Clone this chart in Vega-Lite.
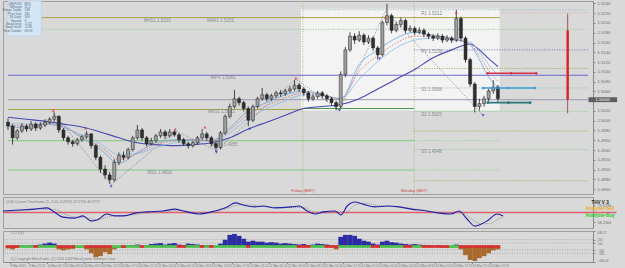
{
"$schema": "https://vega.github.io/schema/vega-lite/v6.json",
"background": "#d9d9d9",
"padding": 0,
"spacing": 1,
"config": {
  "view": {"stroke": "#a0a0a0", "fill": "#d9d9d9"},
  "font": "Liberation Sans",
  "axis": {"labelFontSize": 4.5, "labelColor": "#6e6e6e", "domainColor": "#8a8a8a", "tickColor": "#8a8a8a", "tickSize": 2, "grid": false, "labelPadding": 2, "labelOverlap": false, "labelFlush": false, "labelBound": false}
},
"datasets": {
  "candles": [
{"t":0,"o":1.4997,"h":1.5005,"l":1.4981,"c":1.4989},
{"t":1,"o":1.4989,"h":1.4993,"l":1.4951,"c":1.4965},
{"t":2,"o":1.4965,"h":1.4983,"l":1.4961,"c":1.4979},
{"t":3,"o":1.4979,"h":1.4995,"l":1.4975,"c":1.4989},
{"t":4,"o":1.4989,"h":1.4993,"l":1.4977,"c":1.4983},
{"t":5,"o":1.4983,"h":1.4999,"l":1.4979,"c":1.4993},
{"t":6,"o":1.4993,"h":1.4997,"l":1.4979,"c":1.4985},
{"t":7,"o":1.4985,"h":1.4997,"l":1.4981,"c":1.4991},
{"t":8,"o":1.4991,"h":1.5003,"l":1.4987,"c":1.4997},
{"t":9,"o":1.4997,"h":1.5007,"l":1.4993,"c":1.5003},
{"t":10,"o":1.5003,"h":1.5017,"l":1.4997,"c":1.5009},
{"t":11,"o":1.5009,"h":1.5011,"l":1.4975,"c":1.4981},
{"t":12,"o":1.4981,"h":1.4985,"l":1.4959,"c":1.4965},
{"t":13,"o":1.4965,"h":1.4969,"l":1.4951,"c":1.4957},
{"t":14,"o":1.4957,"h":1.4961,"l":1.4947,"c":1.4953},
{"t":15,"o":1.4953,"h":1.4965,"l":1.4949,"c":1.4961},
{"t":16,"o":1.4961,"h":1.4971,"l":1.4957,"c":1.4967},
{"t":17,"o":1.4967,"h":1.4979,"l":1.4963,"c":1.4973},
{"t":18,"o":1.4973,"h":1.4975,"l":1.4943,"c":1.4949},
{"t":19,"o":1.4949,"h":1.4953,"l":1.4919,"c":1.4925},
{"t":20,"o":1.4925,"h":1.4929,"l":1.4893,"c":1.4901},
{"t":21,"o":1.4901,"h":1.4909,"l":1.4881,"c":1.4889},
{"t":22,"o":1.4889,"h":1.4895,"l":1.4871,"c":1.4879},
{"t":23,"o":1.4879,"h":1.4921,"l":1.4875,"c":1.4915},
{"t":24,"o":1.4915,"h":1.4935,"l":1.4909,"c":1.4929},
{"t":25,"o":1.4929,"h":1.4937,"l":1.4919,"c":1.4925},
{"t":26,"o":1.4925,"h":1.4945,"l":1.4921,"c":1.4941},
{"t":27,"o":1.4941,"h":1.4969,"l":1.4937,"c":1.4965},
{"t":28,"o":1.4965,"h":1.4991,"l":1.4961,"c":1.4981},
{"t":29,"o":1.4981,"h":1.4985,"l":1.4959,"c":1.4965},
{"t":30,"o":1.4965,"h":1.4969,"l":1.4947,"c":1.4953},
{"t":31,"o":1.4953,"h":1.4965,"l":1.4949,"c":1.4959},
{"t":32,"o":1.4959,"h":1.4973,"l":1.4955,"c":1.4969},
{"t":33,"o":1.4969,"h":1.4983,"l":1.4965,"c":1.4977},
{"t":34,"o":1.4977,"h":1.4981,"l":1.4963,"c":1.4969},
{"t":35,"o":1.4969,"h":1.4983,"l":1.4965,"c":1.4977},
{"t":36,"o":1.4977,"h":1.4981,"l":1.4967,"c":1.4971},
{"t":37,"o":1.4971,"h":1.4975,"l":1.4955,"c":1.4961},
{"t":38,"o":1.4961,"h":1.4965,"l":1.4949,"c":1.4953},
{"t":39,"o":1.4953,"h":1.4957,"l":1.4943,"c":1.4949},
{"t":40,"o":1.4949,"h":1.4959,"l":1.4945,"c":1.4955},
{"t":41,"o":1.4955,"h":1.4969,"l":1.4951,"c":1.4965},
{"t":42,"o":1.4965,"h":1.4983,"l":1.4961,"c":1.4973},
{"t":43,"o":1.4973,"h":1.4977,"l":1.4959,"c":1.4965},
{"t":44,"o":1.4965,"h":1.4969,"l":1.4947,"c":1.4953},
{"t":45,"o":1.4953,"h":1.4957,"l":1.4937,"c":1.4945},
{"t":46,"o":1.4945,"h":1.4979,"l":1.4941,"c":1.4975},
{"t":47,"o":1.4975,"h":1.5013,"l":1.4971,"c":1.5009},
{"t":48,"o":1.5009,"h":1.5035,"l":1.5005,"c":1.5029},
{"t":49,"o":1.5029,"h":1.5063,"l":1.5025,"c":1.5045},
{"t":50,"o":1.5045,"h":1.5049,"l":1.5031,"c":1.5037},
{"t":51,"o":1.5037,"h":1.5041,"l":1.5019,"c":1.5025},
{"t":52,"o":1.5025,"h":1.5029,"l":1.4989,"c":1.5001},
{"t":53,"o":1.5001,"h":1.5033,"l":1.4997,"c":1.5029},
{"t":54,"o":1.5029,"h":1.5049,"l":1.5025,"c":1.5045},
{"t":55,"o":1.5045,"h":1.5067,"l":1.5041,"c":1.5053},
{"t":56,"o":1.5053,"h":1.5057,"l":1.5039,"c":1.5045},
{"t":57,"o":1.5045,"h":1.5055,"l":1.5041,"c":1.5051},
{"t":58,"o":1.5051,"h":1.5061,"l":1.5047,"c":1.5057},
{"t":59,"o":1.5057,"h":1.5063,"l":1.5049,"c":1.5055},
{"t":60,"o":1.5055,"h":1.5065,"l":1.5051,"c":1.5061},
{"t":61,"o":1.5061,"h":1.5071,"l":1.5057,"c":1.5065},
{"t":62,"o":1.5065,"h":1.5083,"l":1.5061,"c":1.5073},
{"t":63,"o":1.5073,"h":1.5077,"l":1.5059,"c":1.5065},
{"t":64,"o":1.5065,"h":1.5069,"l":1.5051,"c":1.5057},
{"t":65,"o":1.5057,"h":1.5061,"l":1.5039,"c":1.5045},
{"t":66,"o":1.5045,"h":1.5055,"l":1.5041,"c":1.5049},
{"t":67,"o":1.5049,"h":1.5061,"l":1.5045,"c":1.5057},
{"t":68,"o":1.5057,"h":1.5061,"l":1.5045,"c":1.5051},
{"t":69,"o":1.5051,"h":1.5055,"l":1.5039,"c":1.5045},
{"t":70,"o":1.5045,"h":1.5049,"l":1.5031,"c":1.5037},
{"t":71,"o":1.5037,"h":1.5041,"l":1.5021,"c":1.5029},
{"t":72,"o":1.5029,"h":1.5101,"l":1.5025,"c":1.5095},
{"t":73,"o":1.5095,"h":1.5151,"l":1.5089,"c":1.5145},
{"t":74,"o":1.5145,"h":1.5181,"l":1.5141,"c":1.5173},
{"t":75,"o":1.5173,"h":1.5179,"l":1.5157,"c":1.5165},
{"t":76,"o":1.5165,"h":1.5183,"l":1.5161,"c":1.5175},
{"t":77,"o":1.5175,"h":1.5179,"l":1.5155,"c":1.5161},
{"t":78,"o":1.5161,"h":1.5175,"l":1.5157,"c":1.5169},
{"t":79,"o":1.5169,"h":1.5173,"l":1.5143,"c":1.5149},
{"t":80,"o":1.5149,"h":1.5153,"l":1.5125,"c":1.5135},
{"t":81,"o":1.5135,"h":1.5205,"l":1.5131,"c":1.5201},
{"t":82,"o":1.5201,"h":1.5239,"l":1.5195,"c":1.5215},
{"t":83,"o":1.5215,"h":1.5219,"l":1.5179,"c":1.5185},
{"t":84,"o":1.5185,"h":1.5203,"l":1.5181,"c":1.5197},
{"t":85,"o":1.5197,"h":1.5211,"l":1.5191,"c":1.5205},
{"t":86,"o":1.5205,"h":1.5209,"l":1.5179,"c":1.5185},
{"t":87,"o":1.5185,"h":1.5195,"l":1.5181,"c":1.5189},
{"t":88,"o":1.5189,"h":1.5193,"l":1.5175,"c":1.5181},
{"t":89,"o":1.5181,"h":1.5191,"l":1.5177,"c":1.5185},
{"t":90,"o":1.5185,"h":1.5189,"l":1.5171,"c":1.5177},
{"t":91,"o":1.5177,"h":1.5181,"l":1.5167,"c":1.5173},
{"t":92,"o":1.5173,"h":1.5177,"l":1.5163,"c":1.5169},
{"t":93,"o":1.5169,"h":1.5179,"l":1.5165,"c":1.5173},
{"t":94,"o":1.5173,"h":1.5177,"l":1.5159,"c":1.5165},
{"t":95,"o":1.5165,"h":1.5175,"l":1.5161,"c":1.5169},
{"t":96,"o":1.5169,"h":1.5173,"l":1.5159,"c":1.5165},
{"t":97,"o":1.5165,"h":1.5227,"l":1.5161,"c":1.5209},
{"t":98,"o":1.5209,"h":1.5213,"l":1.5163,"c":1.5169},
{"t":99,"o":1.5169,"h":1.5173,"l":1.5119,"c":1.5125},
{"t":100,"o":1.5125,"h":1.5129,"l":1.5069,"c":1.5075},
{"t":101,"o":1.5075,"h":1.5079,"l":1.5017,"c":1.5029},
{"t":102,"o":1.5029,"h":1.5045,"l":1.5021,"c":1.5035},
{"t":103,"o":1.5035,"h":1.5051,"l":1.5029,"c":1.5045},
{"t":104,"o":1.5045,"h":1.5065,"l":1.5039,"c":1.5061},
{"t":105,"o":1.5061,"h":1.5083,"l":1.5055,"c":1.5069},
{"t":106,"o":1.5069,"h":1.5073,"l":1.5037,"c":1.5045}
  ],
  "ma": [
{"t":0,"s":1.5007,"f1":1.4989,"f2":1.4995,"r":1.4991},
{"t":4,"s":1.5003,"f1":1.4985,"f2":1.4993,"r":1.4989},
{"t":8,"s":1.4999,"f1":1.4995,"f2":1.4993,"r":1.4993},
{"t":12,"s":1.4993,"f1":1.4989,"f2":1.4985,"r":1.4987},
{"t":16,"s":1.4987,"f1":1.4965,"f2":1.4971,"r":1.4967},
{"t":20,"s":1.4977,"f1":1.4941,"f2":1.4953,"r":1.4947},
{"t":24,"s":1.4965,"f1":1.4913,"f2":1.4931,"r":1.4921},
{"t":28,"s":1.4955,"f1":1.4935,"f2":1.4933,"r":1.4933},
{"t":32,"s":1.4951,"f1":1.4955,"f2":1.4945,"r":1.4951},
{"t":36,"s":1.4949,"f1":1.4961,"f2":1.4955,"r":1.4959},
{"t":40,"s":1.4951,"f1":1.4961,"f2":1.4959,"r":1.4961},
{"t":44,"s":1.4955,"f1":1.4959,"f2":1.4959,"r":1.4959},
{"t":48,"s":1.4965,"f1":1.4985,"f2":1.4975,"r":1.4981},
{"t":52,"s":1.4983,"f1":1.5021,"f2":1.5005,"r":1.5013},
{"t":56,"s":1.4997,"f1":1.5037,"f2":1.5025,"r":1.5031},
{"t":60,"s":1.5011,"f1":1.5053,"f2":1.5041,"r":1.5047},
{"t":64,"s":1.5025,"f1":1.5061,"f2":1.5053,"r":1.5057},
{"t":68,"s":1.5029,"f1":1.5053,"f2":1.5051,"r":1.5053},
{"t":72,"s":1.5033,"f1":1.5045,"f2":1.5045,"r":1.5045},
{"t":76,"s":1.5045,"f1":1.5115,"f2":1.5085,"r":1.5101},
{"t":80,"s":1.5065,"f1":1.5145,"f2":1.5121,"r":1.5133},
{"t":84,"s":1.5085,"f1":1.5169,"f2":1.5149,"r":1.5159},
{"t":88,"s":1.5105,"f1":1.5181,"f2":1.5165,"r":1.5173},
{"t":92,"s":1.5129,"f1":1.5175,"f2":1.5169,"r":1.5173},
{"t":96,"s":1.5145,"f1":1.5169,"f2":1.5165,"r":1.5167},
{"t":100,"s":1.5157,"f1":1.5155,"f2":1.5161,"r":1.5157},
{"t":102,"s":1.5145,"f1":1.5125,"f2":1.5141,"r":1.5133},
{"t":104,"s":1.5127,"f1":1.5089,"f2":1.5115,"r":1.5103},
{"t":106,"s":1.5111,"f1":1.5069,"f2":1.5093,"r":1.5081}
  ],
  "zz": [
{"t":9.8,"p":1.5017},{"t":22.3,"p":1.4869},{"t":36.2,"p":1.4979},{"t":45.1,"p":1.4939},
{"t":62.3,"p":1.5085},{"t":71.7,"p":1.5021},{"t":81.7,"p":1.5225},{"t":102.8,"p":1.5011}
  ],
  "mk": [
{"t":9.8,"p":1.5021,"k":"hi"},{"t":16.8,"p":1.4985,"k":"hi"},{"t":36.2,"p":1.4983,"k":"hi"},{"t":42.6,"p":1.4987,"k":"hi"},
{"t":62.3,"p":1.5087,"k":"hi"},{"t":81.7,"p":1.5211,"k":"hi"},{"t":97.0,"p":1.5221,"k":"hi"},
{"t":22.3,"p":1.4865,"k":"lo"},{"t":45.1,"p":1.4935,"k":"lo"},{"t":52.3,"p":1.4983,"k":"lo"},{"t":71.7,"p":1.5021,"k":"lo"},
{"t":80.4,"p":1.5127,"k":"lo"},{"t":102.8,"p":1.5011,"k":"lo"}
  ],
  "wk": [
{"t1":0,"t2":106.4,"p":1.5211,"k":"R"},
{"t1":0,"t2":125.5,"p":1.5093,"k":"PV"},
{"t1":0,"t2":125.5,"p":1.5043,"k":"bid"},
{"t1":0,"t2":63.8,"p":1.5023,"k":"R"},
{"t1":63.8,"t2":87.9,"p":1.5025,"k":"S2"},
{"t1":0,"t2":87.9,"p":1.4959,"k":"S"},
{"t1":0,"t2":87.9,"p":1.4899,"k":"S"}
  ],
  "dl": [
{"t1":0,"t2":125.5,"p":1.5187,"k":"S"},
{"t1":63.8,"t2":125.5,"p":1.5227,"k":"hi"},
{"t1":106.4,"t2":125.5,"p":1.5221,"k":"hi2"},
{"t1":87.9,"t2":125.5,"p":1.5145,"k":"PV"},
{"t1":87.9,"t2":125.5,"p":1.5107,"k":"R"},
{"t1":87.9,"t2":125.5,"p":1.5067,"k":"S"},
{"t1":87.9,"t2":125.5,"p":1.5019,"k":"S"},
{"t1":87.9,"t2":125.5,"p":1.4979,"k":"R"},
{"t1":87.9,"t2":125.5,"p":1.4941,"k":"S"},
{"t1":87.9,"t2":125.5,"p":1.4877,"k":"R"},
{"t1":87.9,"t2":106.4,"p":1.4959,"k":"S"},
{"t1":87.9,"t2":106.4,"p":1.4899,"k":"S"}
  ],
  "vl": [{"t":63.8},{"t":87.9}],
  "wrect": [{"t1":63.4,"t2":106.4,"p1":1.5229,"p2":1.5021}],
  "tg": [
{"t1":103.8,"t2":114.3,"p":1.5097,"k":"a"},
{"t1":102.8,"t2":114.0,"p":1.5067,"k":"b"},
{"t1":103.8,"t2":113.0,"p":1.5037,"k":"c"}
  ],
  "tgp": [
{"t":103.8,"p":1.5097,"k":"a"},{"t":108.9,"p":1.5097,"k":"a"},{"t":114.3,"p":1.5097,"k":"a"},
{"t":102.8,"p":1.5067,"k":"b"},{"t":108.3,"p":1.5067,"k":"b"},{"t":114.0,"p":1.5067,"k":"b"},
{"t":103.8,"p":1.5037,"k":"c"},{"t":108.3,"p":1.5037,"k":"c"},{"t":113.0,"p":1.5037,"k":"c"}
  ],
  "rv": [
{"t":121.1,"p1":1.5219,"p2":1.5015,"k":"thin"},
{"t":121.1,"p1":1.5185,"p2":1.5043,"k":"thick"}
  ],
  "lbl": [
{"t":29.4,"p":1.5205,"txt":"MnS1   1.5203"},
{"t":43.0,"p":1.5205,"txt":"WkR1   1.5201"},
{"t":43.8,"p":1.5087,"txt":"WPV   1.5081"},
{"t":43.2,"p":1.5017,"txt":"WkS1   1.5021"},
{"t":43.8,"p":1.4951,"txt":"WkS2   1.4955"},
{"t":30.2,"p":1.4893,"txt":"MS1   1.4910"},
{"t":89.4,"p":1.5219,"txt":"R1   1.5212"},
{"t":89.4,"p":1.5141,"txt":"PV   1.5138"},
{"t":89.4,"p":1.5063,"txt":"S1   1.5068"},
{"t":89.4,"p":1.5011,"txt":"S2   1.5025"},
{"t":89.4,"p":1.4935,"txt":"S3   1.4948"}
  ],
  "box": [{"t1":0,"t2":7.2,"p1":1.5245,"p2":1.5173}],
  "info": [
{"p":1.5240,"a":"GBPUSD","b":"M15"},
{"p":1.5233,"a":"TdRange","b":"11.2"},
{"p":1.5226,"a":"Range Today:","b":"138"},
{"p":1.5219,"a":"Prior Day:","b":"181"},
{"p":1.5212,"a":"30 Days:","b":"169"},
{"p":1.5205,"a":"Spread:","b":"3"},
{"p":1.5198,"a":"Swap long:","b":"-0.22"},
{"p":1.5191,"a":"Swap short:","b":"-0.49"},
{"p":1.5184,"a":"Next Candle:","b":"09:49"}
  ],
  "days": [
{"t":63.8,"p":1.4856,"txt":"Friday     (BMT)"},
{"t":87.9,"p":1.4856,"txt":"Monday     (BMT)"}
  ],
  "bid": [{"t1":125.6,"t2":131.8,"p1":1.5048,"p2":1.5038,"t":128.7,"p":1.5043,"txt":"1.50445"}],
  "qline": [{"t1":0,"t2":130.5,"v":50}],
  "qqe": [
{"t":0,"v":55},{"t":3.4,"v":58},{"t":6.8,"v":61},{"t":9.4,"v":65},{"t":10.6,"v":55},{"t":12.8,"v":35},{"t":15.3,"v":32},{"t":17,"v":39},{"t":18.7,"v":23},{"t":20,"v":26},{"t":22.1,"v":45},{"t":23.8,"v":39},{"t":25.5,"v":39},{"t":28.1,"v":48},{"t":30.6,"v":52},{"t":34,"v":55},{"t":36.6,"v":61},{"t":39.1,"v":52},{"t":41.7,"v":45},{"t":44.3,"v":52},{"t":47.7,"v":68},{"t":49.4,"v":81},{"t":51.1,"v":74},{"t":53.6,"v":68},{"t":55.3,"v":71},{"t":57.9,"v":65},{"t":61.3,"v":68},{"t":63,"v":71},{"t":64.7,"v":55},{"t":66.4,"v":45},{"t":68.1,"v":52},{"t":70.6,"v":55},{"t":71.9,"v":42},{"t":73.2,"v":71},{"t":74.9,"v":84},{"t":76.6,"v":77},{"t":79.1,"v":68},{"t":81.7,"v":71},{"t":84.3,"v":68},{"t":86.8,"v":61},{"t":90.2,"v":55},{"t":92.8,"v":48},{"t":95.3,"v":45},{"t":97,"v":55},{"t":98.7,"v":29},{"t":100.4,"v":6},{"t":101.3,"v":10},{"t":103,"v":23},{"t":105.1,"v":45},{"t":106.4,"v":39}
  ],
  "qsig": [
{"t":0,"v":52},{"t":4,"v":56},{"t":8,"v":60},{"t":11,"v":60},{"t":13.5,"v":42},{"t":16,"v":35},{"t":18,"v":33},{"t":20,"v":27},{"t":22,"v":34},{"t":24,"v":40},{"t":26,"v":40},{"t":29,"v":45},{"t":32,"v":50},{"t":35,"v":53},{"t":38,"v":57},{"t":41,"v":50},{"t":44,"v":49},{"t":47,"v":60},{"t":50,"v":74},{"t":52,"v":75},{"t":55,"v":70},{"t":58,"v":67},{"t":61,"v":66},{"t":64,"v":66},{"t":66,"v":52},{"t":68,"v":48},{"t":71,"v":52},{"t":73,"v":52},{"t":75,"v":75},{"t":77,"v":80},{"t":80,"v":72},{"t":83,"v":69},{"t":86,"v":65},{"t":89,"v":58},{"t":92,"v":52},{"t":95,"v":48},{"t":97.5,"v":50},{"t":99.5,"v":32},{"t":101.5,"v":14},{"t":103.5,"v":14},{"t":105.5,"v":30},{"t":106.4,"v":34}
  ],
  "qtxt": [{"t":0.6,"v":84,"txt":"QQE Current Timeframe (5, 2.00, 4.2370) 47.2756 46.9757"}],
  "thv": [
{"t":127,"v":82,"txt":"THV V 3","k":"a"},
{"t":127,"v":60,"txt":"Analyzer-Sell","k":"b"},
{"t":127,"v":38,"txt":"Analyzer-Buy","k":"c"}
  ],
  "cci": [
{"t":0,"v":-56,"d":"d"},{"t":1,"v":-84,"d":"d"},{"t":2,"v":-28,"d":"d"},{"t":3,"v":28,"d":"u"},{"t":4,"v":14,"d":"u"},{"t":5,"v":42,"d":"u"},{"t":6,"v":28,"d":"d"},{"t":7,"v":56,"d":"u"},{"t":8,"v":84,"d":"u"},{"t":9,"v":112,"d":"u"},
{"t":10,"v":84,"d":"u"},{"t":11,"v":-84,"d":"d"},{"t":12,"v":-112,"d":"d"},{"t":13,"v":-84,"d":"d"},{"t":14,"v":-70,"d":"d"},{"t":15,"v":-42,"d":"u"},{"t":16,"v":-28,"d":"u"},{"t":17,"v":-84,"d":"d"},{"t":18,"v":-196,"d":"d"},{"t":19,"v":-308,"d":"d"},
{"t":20,"v":-280,"d":"d"},{"t":21,"v":-168,"d":"d"},{"t":22,"v":-224,"d":"d"},{"t":23,"v":-84,"d":"u"},{"t":24,"v":-28,"d":"u"},{"t":25,"v":-42,"d":"d"},{"t":26,"v":28,"d":"u"},{"t":27,"v":42,"d":"u"},{"t":28,"v":56,"d":"u"},{"t":29,"v":14,"d":"d"},
{"t":30,"v":28,"d":"u"},{"t":31,"v":70,"d":"u"},{"t":32,"v":84,"d":"u"},{"t":33,"v":98,"d":"u"},{"t":34,"v":56,"d":"u"},{"t":35,"v":84,"d":"u"},{"t":36,"v":98,"d":"u"},{"t":37,"v":56,"d":"d"},{"t":38,"v":42,"d":"d"},{"t":39,"v":84,"d":"u"},
{"t":40,"v":70,"d":"u"},{"t":41,"v":56,"d":"u"},{"t":42,"v":28,"d":"d"},{"t":43,"v":42,"d":"u"},{"t":44,"v":28,"d":"d"},{"t":45,"v":14,"d":"u"},{"t":46,"v":84,"d":"u"},{"t":47,"v":196,"d":"u"},{"t":48,"v":336,"d":"u"},{"t":49,"v":364,"d":"u"},
{"t":50,"v":308,"d":"u"},{"t":51,"v":224,"d":"u"},{"t":52,"v":140,"d":"d"},{"t":53,"v":168,"d":"u"},{"t":54,"v":140,"d":"u"},{"t":55,"v":140,"d":"u"},{"t":56,"v":112,"d":"u"},{"t":57,"v":126,"d":"u"},{"t":58,"v":112,"d":"u"},{"t":59,"v":84,"d":"u"},
{"t":60,"v":98,"d":"u"},{"t":61,"v":84,"d":"u"},{"t":62,"v":70,"d":"u"},{"t":63,"v":56,"d":"d"},{"t":64,"v":70,"d":"d"},{"t":65,"v":42,"d":"d"},{"t":66,"v":56,"d":"u"},{"t":67,"v":84,"d":"u"},{"t":68,"v":70,"d":"u"},{"t":69,"v":56,"d":"d"},
{"t":70,"v":28,"d":"d"},{"t":71,"v":-84,"d":"d"},{"t":72,"v":280,"d":"u"},{"t":73,"v":336,"d":"u"},{"t":74,"v":336,"d":"u"},{"t":75,"v":308,"d":"u"},{"t":76,"v":224,"d":"u"},{"t":77,"v":168,"d":"u"},{"t":78,"v":140,"d":"u"},{"t":79,"v":84,"d":"d"},
{"t":80,"v":56,"d":"d"},{"t":81,"v":140,"d":"u"},{"t":82,"v":168,"d":"u"},{"t":83,"v":126,"d":"u"},{"t":84,"v":112,"d":"u"},{"t":85,"v":84,"d":"u"},{"t":86,"v":70,"d":"d"},{"t":87,"v":56,"d":"d"},{"t":88,"v":70,"d":"u"},{"t":89,"v":56,"d":"u"},
{"t":90,"v":42,"d":"d"},{"t":91,"v":28,"d":"d"},{"t":92,"v":14,"d":"d"},{"t":93,"v":28,"d":"d"},{"t":94,"v":-28,"d":"d"},{"t":95,"v":-42,"d":"d"},{"t":96,"v":-28,"d":"u"},{"t":97,"v":56,"d":"u"},{"t":98,"v":-84,"d":"d"},{"t":99,"v":-252,"d":"d"},
{"t":100,"v":-392,"d":"d"},{"t":101,"v":-420,"d":"d"},{"t":102,"v":-336,"d":"d"},{"t":103,"v":-280,"d":"d"},{"t":104,"v":-196,"d":"d"},{"t":105,"v":-112,"d":"d"},{"t":106,"v":-84,"d":"d"}
  ],
  "ccil": [{"v":200},{"v":100},{"v":-100},{"v":-200}],
  "ccit": [
{"t":0.6,"v":380,"txt":"CCI (14)"},
{"t":0.6,"v":-364,"txt":"(C) Copyright MetaTrader, (C) 2001-2009 MetaQuotes Software Corp."}
  ]
},
"vconcat": [
{
  "width": 590, "height": 193,
  "resolve": {"scale": {"color": "independent", "shape": "independent"}},
  "layer": [
    {"data": {"name": "wrect"}, "mark": {"type": "rect", "fill": "#f3f3f3"},
     "encoding": {
       "x": {"field": "t1", "type": "quantitative", "scale": {"domain": [0, 125.5], "nice": false, "zero": false}, "axis": null},
       "x2": {"field": "t2"},
       "y": {"field": "p1", "type": "quantitative", "scale": {"domain": [1.485, 1.5245], "nice": false, "zero": false}, "title": null,
             "axis": {"orient": "right", "values": [1.486,1.488,1.49,1.492,1.494,1.496,1.498,1.5,1.502,1.506,1.508,1.51,1.512,1.514,1.516,1.518,1.52,1.522,1.524], "tickCount": 100, "format": ".4f", "minExtent": 35, "labelFontSize": 4.2, "labelOverlap": false}},
       "y2": {"field": "p2"}}},
    {"data": {"name": "vl"}, "mark": {"type": "rule", "color": "#a8a85a", "strokeDash": [1, 1.5], "strokeWidth": 0.8},
     "encoding": {"x": {"field": "t", "type": "quantitative", "scale": {"domain": [0, 125.5], "nice": false, "zero": false}, "axis": null}}},
    {"data": {"name": "wk"}, "mark": {"type": "rule", "strokeWidth": 1},
     "encoding": {
       "x": {"field": "t1", "type": "quantitative", "scale": {"domain": [0, 125.5], "nice": false, "zero": false}, "axis": null},
       "x2": {"field": "t2"},
       "y": {"field": "p", "type": "quantitative", "scale": {"domain": [1.485, 1.5245], "nice": false, "zero": false}, "title": null},
       "color": {"field": "k", "type": "nominal", "legend": null, "scale": {"domain": ["R","PV","S","S2","bid","hi","hi2"], "range": ["#a4a448","#6a6ad0","#80c880","#4a9a4a","#9a9ab4","#90b4c4","#d8a8a8"]}}}},
    {"data": {"name": "dl"}, "mark": {"type": "rule", "strokeWidth": 1, "strokeDash": [1, 1.5]},
     "encoding": {
       "x": {"field": "t1", "type": "quantitative", "scale": {"domain": [0, 125.5], "nice": false, "zero": false}, "axis": null},
       "x2": {"field": "t2"},
       "y": {"field": "p", "type": "quantitative", "scale": {"domain": [1.485, 1.5245], "nice": false, "zero": false}, "title": null},
       "color": {"field": "k", "type": "nominal", "legend": null, "scale": {"domain": ["R","PV","S","S2","bid","hi","hi2"], "range": ["#a4a448","#7070c8","#8ccc8c","#4a9a4a","#9a9ab4","#90b4c4","#d8a8a8"]}}}},
    {"data": {"name": "lbl"}, "mark": {"type": "text", "align": "left", "baseline": "middle", "fontSize": 4.5, "color": "#8a8a8a"},
     "encoding": {
       "x": {"field": "t", "type": "quantitative", "scale": {"domain": [0, 125.5], "nice": false, "zero": false}, "axis": null},
       "y": {"field": "p", "type": "quantitative", "scale": {"domain": [1.485, 1.5245], "nice": false, "zero": false}, "title": null},
       "text": {"field": "txt"}}},
    {"data": {"name": "zz"}, "mark": {"type": "line", "color": "#505050", "strokeWidth": 0.6, "strokeDash": [1, 1.5]},
     "encoding": {
       "x": {"field": "t", "type": "quantitative", "scale": {"domain": [0, 125.5], "nice": false, "zero": false}, "axis": null},
       "y": {"field": "p", "type": "quantitative", "scale": {"domain": [1.485, 1.5245], "nice": false, "zero": false}, "title": null}}},
    {"data": {"name": "ma"}, "mark": {"type": "line", "color": "#4848b4", "strokeWidth": 1.1, "interpolate": "monotone"},
     "encoding": {
       "x": {"field": "t", "type": "quantitative", "scale": {"domain": [0, 125.5], "nice": false, "zero": false}, "axis": null},
       "y": {"field": "s", "type": "quantitative", "scale": {"domain": [1.485, 1.5245], "nice": false, "zero": false}, "title": null}}},
    {"data": {"name": "ma"}, "mark": {"type": "line", "color": "#8cbce8", "strokeWidth": 0.8, "interpolate": "monotone"},
     "encoding": {
       "x": {"field": "t", "type": "quantitative", "scale": {"domain": [0, 125.5], "nice": false, "zero": false}, "axis": null},
       "y": {"field": "f2", "type": "quantitative", "scale": {"domain": [1.485, 1.5245], "nice": false, "zero": false}, "title": null}}},
    {"data": {"name": "ma"}, "mark": {"type": "line", "color": "#6aa4dc", "strokeWidth": 0.8, "interpolate": "monotone"},
     "encoding": {
       "x": {"field": "t", "type": "quantitative", "scale": {"domain": [0, 125.5], "nice": false, "zero": false}, "axis": null},
       "y": {"field": "f1", "type": "quantitative", "scale": {"domain": [1.485, 1.5245], "nice": false, "zero": false}, "title": null}}},
    {"data": {"name": "ma"}, "mark": {"type": "line", "color": "#d06a6a", "strokeWidth": 0.8, "strokeDash": [1.5, 1.5], "interpolate": "monotone"},
     "encoding": {
       "x": {"field": "t", "type": "quantitative", "scale": {"domain": [0, 125.5], "nice": false, "zero": false}, "axis": null},
       "y": {"field": "r", "type": "quantitative", "scale": {"domain": [1.485, 1.5245], "nice": false, "zero": false}, "title": null}}},
    {"data": {"name": "candles"}, "mark": {"type": "rule", "color": "#1e1e1e", "strokeWidth": 0.8},
     "encoding": {
       "x": {"field": "t", "type": "quantitative", "scale": {"domain": [0, 125.5], "nice": false, "zero": false}, "axis": null},
       "y": {"field": "l", "type": "quantitative", "scale": {"domain": [1.485, 1.5245], "nice": false, "zero": false}, "title": null},
       "y2": {"field": "h"}}},
    {"data": {"name": "candles"}, "mark": {"type": "bar", "size": 3, "stroke": "#1e1e1e", "strokeWidth": 0.5},
     "encoding": {
       "x": {"field": "t", "type": "quantitative", "scale": {"domain": [0, 125.5], "nice": false, "zero": false}, "axis": null},
       "y": {"field": "o", "type": "quantitative", "scale": {"domain": [1.485, 1.5245], "nice": false, "zero": false}, "title": null},
       "y2": {"field": "c"},
       "color": {"condition": {"test": "datum.c >= datum.o", "value": "#a0a0a0"}, "value": "#2e2e2e"}}},
    {"data": {"name": "mk"}, "mark": {"type": "point", "filled": true, "size": 10},
     "encoding": {
       "x": {"field": "t", "type": "quantitative", "scale": {"domain": [0, 125.5], "nice": false, "zero": false}, "axis": null},
       "y": {"field": "p", "type": "quantitative", "scale": {"domain": [1.485, 1.5245], "nice": false, "zero": false}, "title": null},
       "color": {"field": "k", "type": "nominal", "legend": null, "scale": {"domain": ["hi", "lo"], "range": ["#e02828", "#2030c8"]}},
       "shape": {"field": "k", "type": "nominal", "legend": null, "scale": {"domain": ["hi", "lo"], "range": ["triangle-up", "triangle-down"]}}}},
    {"data": {"name": "tg"}, "mark": {"type": "rule", "strokeWidth": 1.6},
     "encoding": {
       "x": {"field": "t1", "type": "quantitative", "scale": {"domain": [0, 125.5], "nice": false, "zero": false}, "axis": null},
       "x2": {"field": "t2"},
       "y": {"field": "p", "type": "quantitative", "scale": {"domain": [1.485, 1.5245], "nice": false, "zero": false}, "title": null},
       "color": {"field": "k", "type": "nominal", "legend": null, "scale": {"domain": ["a", "b", "c"], "range": ["#d8324a", "#3d9ae0", "#2a7878"]}}}},
    {"data": {"name": "tgp"}, "mark": {"type": "circle", "size": 7, "opacity": 1},
     "encoding": {
       "x": {"field": "t", "type": "quantitative", "scale": {"domain": [0, 125.5], "nice": false, "zero": false}, "axis": null},
       "y": {"field": "p", "type": "quantitative", "scale": {"domain": [1.485, 1.5245], "nice": false, "zero": false}, "title": null},
       "color": {"field": "k", "type": "nominal", "legend": null, "scale": {"domain": ["a", "b", "c"], "range": ["#d8324a", "#3d9ae0", "#2a7878"]}}}},
    {"data": {"name": "rv"}, "transform": [{"filter": "datum.k == 'thin'"}], "mark": {"type": "rule", "color": "#a03030", "strokeWidth": 0.8},
     "encoding": {
       "x": {"field": "t", "type": "quantitative", "scale": {"domain": [0, 125.5], "nice": false, "zero": false}, "axis": null},
       "y": {"field": "p1", "type": "quantitative", "scale": {"domain": [1.485, 1.5245], "nice": false, "zero": false}, "title": null},
       "y2": {"field": "p2"}}},
    {"data": {"name": "rv"}, "transform": [{"filter": "datum.k == 'thick'"}], "mark": {"type": "rule", "color": "#e02020", "strokeWidth": 2.4},
     "encoding": {
       "x": {"field": "t", "type": "quantitative", "scale": {"domain": [0, 125.5], "nice": false, "zero": false}, "axis": null},
       "y": {"field": "p1", "type": "quantitative", "scale": {"domain": [1.485, 1.5245], "nice": false, "zero": false}, "title": null},
       "y2": {"field": "p2"}}},
    {"data": {"name": "days"}, "mark": {"type": "text", "align": "center", "baseline": "middle", "fontSize": 4, "color": "#c84848"},
     "encoding": {
       "x": {"field": "t", "type": "quantitative", "scale": {"domain": [0, 125.5], "nice": false, "zero": false}, "axis": null},
       "y": {"field": "p", "type": "quantitative", "scale": {"domain": [1.485, 1.5245], "nice": false, "zero": false}, "title": null},
       "text": {"field": "txt"}}},
    {"data": {"name": "box"}, "mark": {"type": "rect", "fill": "#d2e6f6", "stroke": "#b4cce2", "strokeWidth": 0.5},
     "encoding": {
       "x": {"field": "t1", "type": "quantitative", "scale": {"domain": [0, 125.5], "nice": false, "zero": false}, "axis": null},
       "x2": {"field": "t2"},
       "y": {"field": "p1", "type": "quantitative", "scale": {"domain": [1.485, 1.5245], "nice": false, "zero": false}, "title": null},
       "y2": {"field": "p2"}}},
    {"data": {"name": "info"}, "mark": {"type": "text", "align": "right", "baseline": "middle", "fontSize": 3.2, "color": "#5a6a7a", "x": 19},
     "encoding": {
       "y": {"field": "p", "type": "quantitative", "scale": {"domain": [1.485, 1.5245], "nice": false, "zero": false}, "title": null},
       "text": {"field": "a"}}},
    {"data": {"name": "info"}, "mark": {"type": "text", "align": "left", "baseline": "middle", "fontSize": 3.2, "color": "#5a6a7a", "x": 21.5},
     "encoding": {
       "y": {"field": "p", "type": "quantitative", "scale": {"domain": [1.485, 1.5245], "nice": false, "zero": false}, "title": null},
       "text": {"field": "b"}}},
    {"data": {"name": "bid"}, "mark": {"type": "rect", "fill": "#5e5e5e"},
     "encoding": {
       "x": {"field": "t1", "type": "quantitative", "scale": {"domain": [0, 125.5], "nice": false, "zero": false}, "axis": null},
       "x2": {"field": "t2"},
       "y": {"field": "p1", "type": "quantitative", "scale": {"domain": [1.485, 1.5245], "nice": false, "zero": false}, "title": null},
       "y2": {"field": "p2"}}},
    {"data": {"name": "bid"}, "mark": {"type": "text", "align": "center", "baseline": "middle", "fontSize": 4, "color": "#ffffff"},
     "encoding": {
       "x": {"field": "t", "type": "quantitative", "scale": {"domain": [0, 125.5], "nice": false, "zero": false}, "axis": null},
       "y": {"field": "p", "type": "quantitative", "scale": {"domain": [1.485, 1.5245], "nice": false, "zero": false}, "title": null},
       "text": {"field": "txt"}}}
  ]
},
{
  "width": 590, "height": 31,
  "resolve": {"scale": {"color": "independent"}},
  "layer": [
    {"data": {"name": "qline"}, "mark": {"type": "rule", "color": "#e0606e", "strokeWidth": 1.5},
     "encoding": {
       "x": {"field": "t1", "type": "quantitative", "scale": {"domain": [0, 125.5], "nice": false, "zero": false}, "axis": null},
       "x2": {"field": "t2"},
       "y": {"field": "v", "type": "quantitative", "scale": {"domain": [0, 100], "nice": false, "zero": false}, "title": null,
             "axis": {"orient": "right", "values": [73.923, 18.2304], "tickCount": 100, "format": ".4f", "minExtent": 35, "labelFontSize": 3.8}}}},
    {"data": {"name": "qsig"}, "mark": {"type": "line", "color": "#8a8a8a", "strokeWidth": 0.9, "strokeDash": [1, 1], "interpolate": "monotone"},
     "encoding": {
       "x": {"field": "t", "type": "quantitative", "scale": {"domain": [0, 125.5], "nice": false, "zero": false}, "axis": null},
       "y": {"field": "v", "type": "quantitative", "scale": {"domain": [0, 100], "nice": false, "zero": false}, "title": null}}},
    {"data": {"name": "qqe"}, "mark": {"type": "line", "color": "#2020a8", "strokeWidth": 1.1, "interpolate": "monotone"},
     "encoding": {
       "x": {"field": "t", "type": "quantitative", "scale": {"domain": [0, 125.5], "nice": false, "zero": false}, "axis": null},
       "y": {"field": "v", "type": "quantitative", "scale": {"domain": [0, 100], "nice": false, "zero": false}, "title": null}}},
    {"data": {"name": "qtxt"}, "mark": {"type": "text", "align": "left", "baseline": "middle", "fontSize": 3.6, "color": "#7a7a7a"},
     "encoding": {
       "x": {"field": "t", "type": "quantitative", "scale": {"domain": [0, 125.5], "nice": false, "zero": false}, "axis": null},
       "y": {"field": "v", "type": "quantitative", "scale": {"domain": [0, 100], "nice": false, "zero": false}, "title": null},
       "text": {"field": "txt"}}},
    {"data": {"name": "thv"}, "mark": {"type": "text", "align": "center", "baseline": "middle", "fontSize": 4.6, "fontWeight": "bold"},
     "encoding": {
       "x": {"field": "t", "type": "quantitative", "scale": {"domain": [0, 125.5], "nice": false, "zero": false}, "axis": null},
       "y": {"field": "v", "type": "quantitative", "scale": {"domain": [0, 100], "nice": false, "zero": false}, "title": null},
       "text": {"field": "txt"},
       "color": {"field": "k", "type": "nominal", "legend": null, "scale": {"domain": ["a", "b", "c"], "range": ["#2a2a1a", "#f0a820", "#22cc22"]}}}}
  ]
},
{
  "width": 590, "height": 31,
  "layer": [
    {"data": {"name": "ccil"}, "mark": {"type": "rule", "color": "#9a9a9a", "strokeWidth": 0.7, "strokeDash": [1, 1.5]},
     "encoding": {
       "y": {"field": "v", "type": "quantitative", "scale": {"domain": [-449.44, 449.27], "nice": false, "zero": false}, "title": null,
             "axis": {"orient": "right", "values": [449.27, 200, 100, -100, -200, -449.44], "tickCount": 100, "labelFlush": true, "labelExpr": "abs(datum.value) > 300 ? format(datum.value, '.2f') : format(datum.value, 'd')", "minExtent": 35, "labelFontSize": 3}}}},
    {"data": {"name": "cci"}, "mark": {"type": "bar", "size": 4.8},
     "encoding": {
       "x": {"field": "t", "type": "quantitative", "scale": {"domain": [0, 125.5], "nice": false, "zero": false},
             "axis": {"orient": "bottom", "values": [0.4,4.4,8.4,12.4,16.4,20.4,24.4,28.4,32.4,36.4,40.4,44.4,48.4,52.4,56.4,60.4,64.4,68.4,72.4,76.4,80.4,84.4,88.4,92.4,96.4,100.4,104.4], "tickCount": 100, "labelAlign": "left", "labelBaseline": "top", "labelFontSize": 3.1, "labelPadding": 0.5, "tickSize": 1.5, "title": null,
                      "labelExpr": "['9 Mar 2015','9 Mar 21:15','10 Mar 01:15','10 Mar 05:15','10 Mar 09:15','10 Mar 13:15','10 Mar 17:15','10 Mar 21:15','11 Mar 01:15','11 Mar 05:15','11 Mar 09:15','11 Mar 13:15','11 Mar 17:15','11 Mar 21:15','12 Mar 01:15','12 Mar 05:15','12 Mar 09:15','12 Mar 13:15','12 Mar 17:15','12 Mar 21:15','13 Mar 01:15','13 Mar 05:15','13 Mar 09:15','13 Mar 13:15','13 Mar 17:15','13 Mar 21:15','16 Mar 01:15'][round((datum.value - 0.4) / 4)]"}},
       "y": {"field": "v", "type": "quantitative", "scale": {"domain": [-449.44, 449.27], "nice": false, "zero": false}, "title": null},
       "y2": {"datum": 0},
       "color": {"condition": {"test": "datum.v >= 0", "value": "#2c2ca4"}, "value": "#a8682e"}}},
    {"data": {"name": "cci"}, "mark": {"type": "rule", "strokeWidth": 4.8},
     "encoding": {
       "x": {"field": "t", "type": "quantitative", "scale": {"domain": [0, 125.5], "nice": false, "zero": false}},
       "y": {"datum": -40, "type": "quantitative", "scale": {"domain": [-449.44, 449.27], "nice": false, "zero": false}, "title": null},
       "y2": {"datum": 40},
       "color": {"condition": {"test": "datum.d == 'u'", "value": "#4cc24c"}, "value": "#d83030"}}},
    {"data": {"name": "ccit"}, "mark": {"type": "text", "align": "left", "baseline": "middle", "fontSize": 3.4, "color": "#7a7a7a"},
     "encoding": {
       "x": {"field": "t", "type": "quantitative", "scale": {"domain": [0, 125.5], "nice": false, "zero": false}},
       "y": {"field": "v", "type": "quantitative", "scale": {"domain": [-449.44, 449.27], "nice": false, "zero": false}, "title": null},
       "text": {"field": "txt"}}}
  ]
}
]
}
